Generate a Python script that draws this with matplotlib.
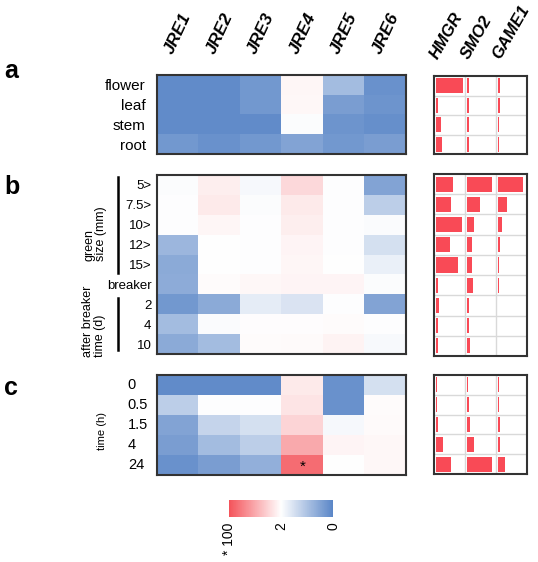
import numpy as np
import matplotlib
matplotlib.use('Agg')
import matplotlib.pyplot as plt
from matplotlib.colors import LinearSegmentedColormap
from matplotlib.lines import Line2D
import matplotlib.transforms as mtransforms

plt.rcParams['font.family'] = ['Liberation Sans', 'DejaVu Sans']

# columns
genes = ['JRE1', 'JRE2', 'JRE3', 'JRE4', 'JRE5', 'JRE6']
bar_genes = ['HMGR', 'SMO2', 'GAME1']

# row labels
rows_a = ['flower', 'leaf', 'stem', 'root']
rows_b = ['5>', '7.5>', '10>', '12>', '15>', 'breaker', '2', '4', '10']
rows_c = ['0', '0.5', '1.5', '4', '24']

# heatmap scores (-1 = red end "* 100", 0 = white "2", 1 = blue end "0")
heat_a = [[0.95, 0.95, 0.85, -0.05, 0.55, 0.90],
          [0.95, 0.95, 0.85, -0.04, 0.80, 0.88],
          [0.95, 0.95, 0.95, 0.02, 0.88, 0.92],
          [0.85, 0.90, 0.85, 0.75, 0.85, 0.80]]
heat_b = [[0.02, -0.10, 0.05, -0.22, 0.01, 0.75],
          [0.01, -0.12, 0.02, -0.12, 0.01, 0.40],
          [0.01, -0.05, 0.01, -0.10, 0.01, 0.03],
          [0.60, 0.00, 0.01, -0.06, 0.01, 0.25],
          [0.70, 0.00, 0.01, -0.05, 0.00, 0.12],
          [0.68, -0.02, -0.04, -0.06, -0.06, 0.02],
          [0.85, 0.70, 0.15, 0.22, 0.01, 0.75],
          [0.55, 0.03, -0.01, -0.01, -0.02, 0.01],
          [0.70, 0.55, -0.02, -0.03, -0.07, 0.04]]
heat_c = [[0.95, 0.95, 0.95, -0.12, 0.90, 0.25],
          [0.40, 0.01, 0.01, -0.15, 0.90, -0.02],
          [0.75, 0.35, 0.25, -0.25, 0.05, -0.03],
          [0.80, 0.55, 0.40, -0.50, -0.06, -0.04],
          [0.90, 0.80, 0.65, -0.85, 0.00, -0.04]]

# bar values (fraction of cell) for HMGR, SMO2, GAME1
bars_a = [[0.95, 0.10, 0.08],
          [0.10, 0.10, 0.10],
          [0.18, 0.10, 0.05],
          [0.22, 0.08, 0.05]]
bars_b = [[0.60, 0.90, 0.90],
          [0.55, 0.47, 0.32],
          [0.92, 0.25, 0.15],
          [0.52, 0.20, 0.08],
          [0.78, 0.20, 0.05],
          [0.08, 0.22, 0.05],
          [0.13, 0.08, 0.03],
          [0.07, 0.10, 0.03],
          [0.07, 0.12, 0.03]]
bars_c = [[0.05, 0.05, 0.05],
          [0.06, 0.08, 0.04],
          [0.08, 0.12, 0.10],
          [0.27, 0.27, 0.10],
          [0.55, 0.90, 0.25]]

cbar_ticks = [-1, 0, 1]
cbar_labels = ['* 100', '2', '0']

W, H = 538, 562
def box(l, t, r, b):
    return [l / W, 1 - b / H, (r - l) / W, (b - t) / H]

cmap = LinearSegmentedColormap.from_list('rwb', ['#f4535a', '#ffffff', '#5a86c7'])
frame = '#333333'
red = '#f94a56'

fig = plt.figure(figsize=(W / 100, H / 100), dpi=100)


def heat(rect, data):
    ax = fig.add_axes(box(*rect))
    ax.imshow(np.array(data), cmap=cmap, vmin=-1, vmax=1, aspect='auto',
              interpolation='nearest')
    ax.set_xticks([])
    for s in ax.spines.values():
        s.set_color(frame)
        s.set_linewidth(1.5)
    return ax


def bars(rect, data):
    ax = fig.add_axes(box(*rect))
    data = np.array(data)
    n = data.shape[0]
    for j in range(3):
        ax.barh(np.arange(n), data[:, j] * 0.92, left=j + 0.05, height=0.75,
                color=red, zorder=2)
    for j in (1, 2):
        ax.axvline(j, color='#d9d9d9', lw=1, zorder=1)
    for i in range(n - 1):
        ax.axhline(i + 0.5, color='#d9d9d9', lw=1, zorder=1)
    ax.set_xlim(0, 3)
    ax.set_ylim(n - 0.5, -0.5)
    ax.set_xticks([])
    ax.set_yticks([])
    for s in ax.spines.values():
        s.set_color(frame)
        s.set_linewidth(1.5)
    return ax


ax_a = heat((157, 75, 406, 154), heat_a)
ax_a.set_yticks(range(len(rows_a)))
ax_a.set_yticklabels(rows_a, fontsize=11)
ax_a.tick_params(axis='y', length=0, pad=8)

ax_b = heat((157, 175, 406, 354), heat_b)
ax_b.set_yticks(range(len(rows_b)))
ax_b.set_yticklabels(rows_b, fontsize=9.5)
ax_b.tick_params(axis='y', length=0, pad=4)

ax_c = heat((157, 375, 406, 475), heat_c)
ax_c.set_yticks([])
tr = mtransforms.blended_transform_factory(ax_c.transAxes, ax_c.transData)
for i, lab in enumerate(rows_c):
    ax_c.text(-0.117, i, lab, transform=tr, ha='left', va='center', fontsize=10.5)
ax_c.text(3, 4.1, '*', ha='center', va='center', fontsize=11, color='black')

bars((434, 76, 527, 154), bars_a)
bars((434, 174, 527, 356), bars_b)
bars((434, 375, 527, 474), bars_c)

# column headers
for i, g in enumerate(genes):
    cx = 157 + (i + 0.5) * 249 / 6 - 2
    fig.text(cx / W, 1 - 56 / H, g, rotation=65, rotation_mode='anchor',
             ha='left', va='bottom', fontsize=12.5, fontweight='bold', fontstyle='italic')
for j, g in enumerate(bar_genes):
    cx = 434 + (j + 0.5) * 31 - 9
    fig.text(cx / W, 1 - 62 / H, g, rotation=60, rotation_mode='anchor',
             ha='left', va='bottom', fontsize=12, fontweight='bold', fontstyle='italic')

# panel letters
for lab, y in (('a', 78), ('b', 194), ('c', 395)):
    fig.text(4 / W, 1 - y / H, lab, fontsize=18, fontweight='bold', ha='left', va='baseline')

# group labels in panel b
fig.text(95 / W, 1 - 261 / H, 'green\nsize (mm)', rotation=90, ha='center', va='bottom',
         multialignment='left', fontsize=9, linespacing=1.0)
fig.text(94 / W, 1 - 357 / H, 'after breaker\ntime (d)', rotation=90, ha='center',
         va='bottom', multialignment='left', fontsize=9, linespacing=1.0)
fig.add_artist(Line2D([118 / W, 118 / W], [1 - 177 / H, 1 - 273 / H], color='black', lw=1.8))
fig.add_artist(Line2D([118 / W, 118 / W], [1 - 298 / H, 1 - 350 / H], color='black', lw=1.8))

fig.text(102 / W, 1 - 431 / H, 'time (h)', rotation=90, ha='center', va='center', fontsize=8)

# colorbar
cax = fig.add_axes(box(229, 500, 333, 517))
sm = plt.cm.ScalarMappable(cmap=cmap, norm=plt.Normalize(-1, 1))
cb = fig.colorbar(sm, cax=cax, orientation='horizontal')
cb.outline.set_visible(False)
cb.set_ticks(cbar_ticks)
cb.set_ticklabels(cbar_labels)
cax.tick_params(length=0, pad=4, labelsize=10)
for t in cax.get_xticklabels():
    t.set_rotation(90)
    t.set_va('top')

fig.savefig('out.png', dpi=100)
